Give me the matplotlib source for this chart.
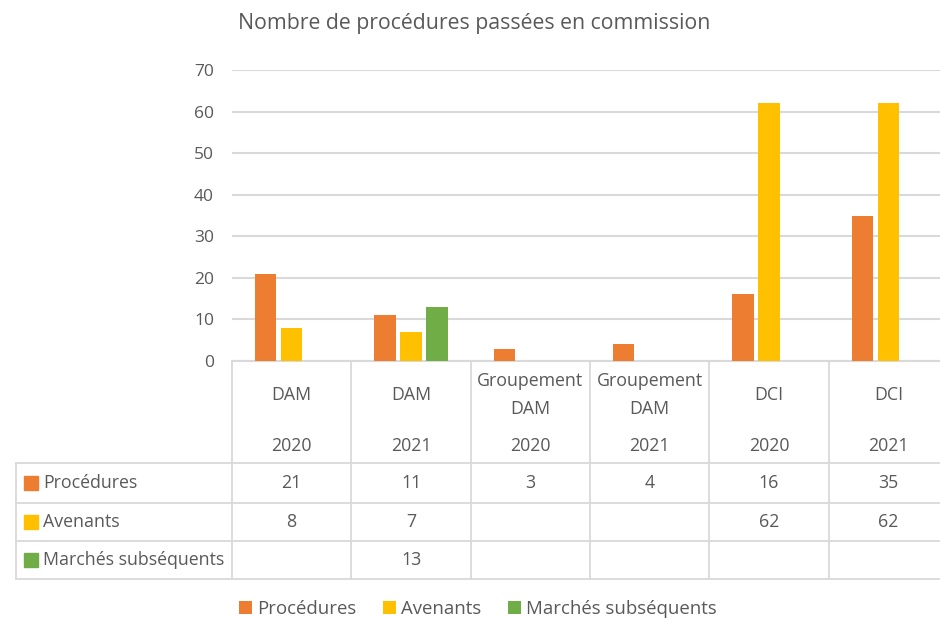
import matplotlib.pyplot as plt
import numpy as np

# Data
categories = ['DAM', 'DAM', 'Groupement\nDAM', 'Groupement\nDAM', 'DCI', 'DCI']
years = ['2020', '2021', '2020', '2021', '2020', '2021']
series_names = ['Procédures', 'Avenants', 'Marchés subséquents']
procedures = [21, 11, 3, 4, 16, 35]
avenants = [8, 7, None, None, 62, 62]
marches = [None, 13, None, None, None, None]
colors = ['#ED7D31', '#FFC000', '#70AD47']

text_color = '#595959'
grid_color = '#D9D9D9'
plt.rcParams['font.family'] = ['Open Sans', 'DejaVu Sans']

W, H = 940, 619
fig = plt.figure(figsize=(W / 100, H / 100), dpi=100)

# pixel layout of the Excel-like chart
px_left, px_right = 232, 948
px_top, px_zero = 70, 361
col_w = (px_right - px_left) / len(categories)

ax = fig.add_axes([px_left / W, 1 - px_zero / H,
                   (px_right - px_left) / W, (px_zero - px_top) / H])
x = np.arange(len(categories))
offset = 0.217
width = 0.178
all_series = [procedures, avenants, marches]
handles = []
for i, (name, vals) in enumerate(zip(series_names, all_series)):
    v = [np.nan if val is None else val for val in vals]
    b = ax.bar(x + (i - 1) * offset, v, width, color=colors[i], label=name, zorder=3)
    handles.append(b)

ax.set_xlim(-0.5, len(categories) - 0.5)
ax.set_ylim(0, 70)
ax.set_yticks(range(0, 71, 10))
ax.set_xticks([])
ax.grid(axis='y', color=grid_color, lw=1.5, zorder=0)
for s in ['top', 'right', 'left']:
    ax.spines[s].set_visible(False)
ax.spines['bottom'].set_color(grid_color)
ax.spines['bottom'].set_linewidth(1.5)
ax.tick_params(axis='y', length=0, pad=13, labelsize=12.5, labelcolor=text_color)

fig.text(474 / W, 1 - 23 / H, 'Nombre de procédures passées en commission',
         ha='center', va='center', fontsize=15.3, color=text_color)

# data table below the plot, drawn in pixel coordinates
tab = fig.add_axes([0, 0, 1, 1], facecolor='none')
tab.set_xlim(0, W)
tab.set_ylim(H, 0)
tab.axis('off')

tbl_left = 16
row_edges = [361, 463, 503, 541, 579]
lc = dict(color=grid_color, lw=1.3)
for i in range(len(categories) + 1):
    xc = px_left + i * col_w
    tab.plot([xc, xc], [row_edges[0], row_edges[-1]], **lc)
tab.plot([tbl_left, tbl_left], [row_edges[1], row_edges[-1]], **lc)
for yr in row_edges[1:]:
    tab.plot([tbl_left, px_right], [yr, yr], **lc)

fs = 12.8
for i, (cat, yr) in enumerate(zip(categories, years)):
    xc = px_left + (i + 0.5) * col_w
    tab.text(xc, 395, cat, ha='center', va='center', fontsize=fs,
             color=text_color, linespacing=1.65)
    tab.text(xc, 446, yr, ha='center', va='center', fontsize=fs, color=text_color)

for r, (name, vals) in enumerate(zip(series_names, all_series)):
    yc = (row_edges[r + 1] + row_edges[r + 2]) / 2
    tab.add_patch(plt.Rectangle((24, yc - 7), 14, 14, color=colors[r]))
    tab.text(43, yc, name, ha='left', va='center', fontsize=fs, color=text_color)
    for i, val in enumerate(vals):
        if val is not None:
            tab.text(px_left + (i + 0.5) * col_w, yc, str(val), ha='center',
                     va='center', fontsize=fs, color=text_color)

fig.legend(handles=handles, loc='center', bbox_to_anchor=(478 / W, 1 - 609 / H),
           ncol=3, frameon=False, fontsize=13.4, labelcolor=text_color,
           handlelength=0.7, handleheight=0.7, handletextpad=0.3, columnspacing=1.4)

fig.savefig('out.png', dpi=100)
